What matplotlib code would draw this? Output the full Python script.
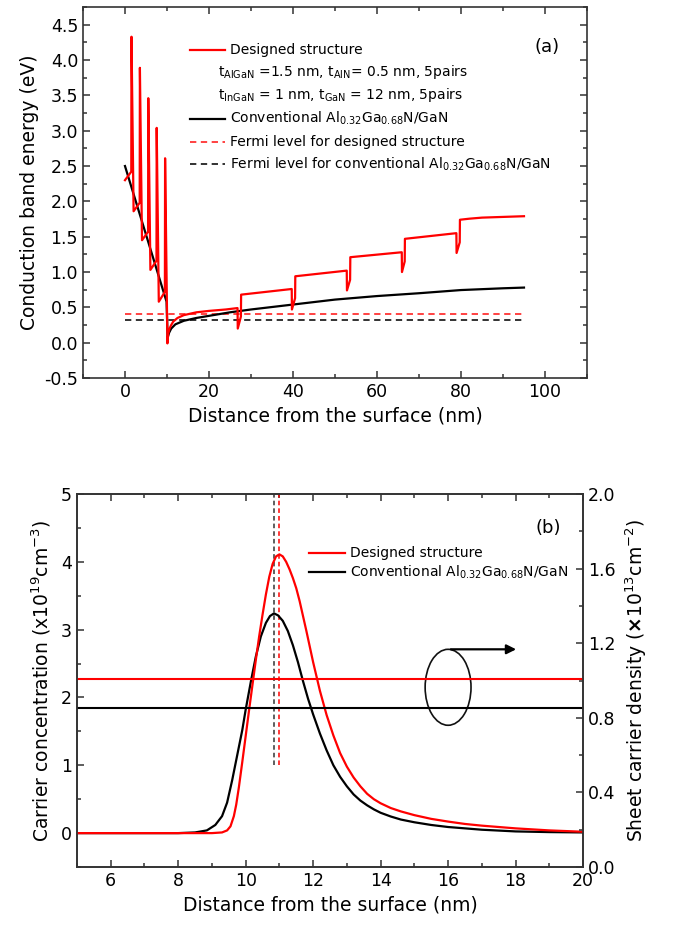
import matplotlib
matplotlib.use("Agg")
import matplotlib.pyplot as plt
from matplotlib.patches import Ellipse
from matplotlib.ticker import MultipleLocator, FormatStrFormatter

plt.rcParams['font.family'] = ['DejaVu Sans']
plt.rcParams['mathtext.default'] = 'regular'

# ---------------- Panel (a) data ----------------
designed_x = [0.0, 1.5, 1.55, 2.05, 3.5, 3.55, 4.05, 5.5, 5.55, 6.05, 7.5, 7.55, 8.05,
              9.5, 9.55, 10.1, 10.3, 10.6, 11.0, 11.5, 12.5, 14.0, 17.0, 20.0, 24.0, 26.8,
              26.85, 27.6, 27.65, 39.7, 39.75, 40.5, 40.55, 52.8, 52.85, 53.6, 53.65,
              65.9, 65.95, 66.6, 66.65, 78.9, 78.95, 79.7, 79.75, 82.0, 85.0, 90.0, 95.0]
designed_y = [2.30, 2.42, 4.33, 1.86, 1.98, 3.89, 1.45, 1.57, 3.46, 1.03, 1.16, 3.04, 0.58,
              0.72, 2.61, -0.01, 0.13, 0.20, 0.25, 0.30, 0.35, 0.39, 0.43, 0.45, 0.47, 0.49,
              0.20, 0.37, 0.68, 0.76, 0.47, 0.63, 0.94, 1.02, 0.74, 0.89, 1.21,
              1.28, 1.00, 1.15, 1.47, 1.55, 1.27, 1.42, 1.74, 1.755, 1.77, 1.78, 1.79]

conv_x = [0.0, 9.9, 10.15, 10.5, 11.0, 12.0, 14.0, 17.0, 20.0, 25.0, 30.0, 40.0, 50.0,
          60.0, 70.0, 80.0, 90.0, 95.0]
conv_y = [2.50, 0.58, 0.07, 0.14, 0.20, 0.26, 0.31, 0.35, 0.38, 0.43, 0.47, 0.54, 0.61,
          0.66, 0.70, 0.745, 0.77, 0.78]

fermi_x = [0.0, 95.0]
fermi_designed = 0.41
fermi_conv = 0.32

# ---------------- Panel (b) data ----------------
red_x = [5.0, 9.0, 9.3, 9.45, 9.55, 9.65, 9.72, 9.8, 9.9, 10.0, 10.1, 10.2, 10.3, 10.4,
         10.5, 10.6, 10.7, 10.8, 10.9, 11.0, 11.1, 11.2, 11.3, 11.4, 11.5, 11.6, 11.8,
         12.0, 12.2, 12.4, 12.6, 12.8, 13.0, 13.2, 13.4, 13.6, 13.8, 14.0, 14.3, 14.6,
         15.0, 15.5, 16.0, 16.5, 17.0, 17.5, 18.0, 19.0, 20.0]
red_y = [0.0, 0.0, 0.01, 0.04, 0.10, 0.25, 0.42, 0.68, 1.05, 1.43, 1.81, 2.18, 2.55, 2.90,
         3.22, 3.52, 3.78, 3.97, 4.08, 4.11, 4.08, 4.00, 3.89, 3.76, 3.61, 3.42, 2.98,
         2.52, 2.10, 1.74, 1.44, 1.18, 0.98, 0.82, 0.69, 0.58, 0.50, 0.44, 0.37, 0.32,
         0.265, 0.21, 0.17, 0.135, 0.11, 0.09, 0.07, 0.04, 0.02]

blk_x = [5.0, 8.0, 8.5, 8.85, 9.1, 9.3, 9.45, 9.6, 9.75, 9.9, 10.0, 10.16, 10.3, 10.45,
         10.6, 10.72, 10.84, 10.96, 11.1, 11.25, 11.4, 11.55, 11.7, 11.85, 12.0, 12.2,
         12.4, 12.6, 12.8, 13.0, 13.2, 13.4, 13.6, 13.8, 14.0, 14.3, 14.6, 15.0, 15.5,
         16.0, 16.5, 17.0, 18.0, 19.0, 20.0]
blk_y = [0.0, 0.0, 0.01, 0.04, 0.12, 0.25, 0.45, 0.78, 1.15, 1.52, 1.82, 2.25, 2.60, 2.90,
         3.10, 3.20, 3.24, 3.21, 3.13, 2.98, 2.77, 2.52, 2.24, 1.98, 1.75, 1.47,
         1.22, 1.00, 0.83, 0.69, 0.57, 0.48, 0.41, 0.35, 0.30, 0.245, 0.20, 0.16, 0.12,
         0.09, 0.07, 0.05, 0.025, 0.015, 0.01]

sheet_designed = 1.01   # x10^13 cm^-2 (right axis)
sheet_conv = 0.85
peak_designed = 10.99
peak_conv = 10.84

RED = '#ff0000'
BLK = '#000000'

fig = plt.figure(figsize=(6.73, 9.27), dpi=100)

def style_axis(ax):
    for s in ax.spines.values():
        s.set_linewidth(1.2)
        s.set_color('#333333')
    ax.tick_params(which='both', direction='in', labelsize=12.5, width=1.1, colors='#333333',
                   labelcolor='black')
    ax.tick_params(which='major', length=5)
    ax.tick_params(which='minor', length=3)

# ---------------- Panel (a) ----------------
ax1 = fig.add_axes([0.1233, 0.5922, 0.7489, 0.4002])
ax1.plot(fermi_x, [fermi_designed] * 2, color=RED, lw=1.3, ls=(0, (3.5, 2.5)), alpha=0.8)
ax1.plot(fermi_x, [fermi_conv] * 2, color='#222222', lw=1.3, ls=(0, (3.5, 2.5)))
ax1.plot(conv_x, conv_y, color=BLK, lw=1.6)
ax1.plot(designed_x, designed_y, color=RED, lw=1.6)
ax1.set_xlim(-10, 110)
ax1.set_ylim(-0.5, 4.75)
ax1.xaxis.set_major_locator(MultipleLocator(20))
ax1.xaxis.set_minor_locator(MultipleLocator(10))
ax1.yaxis.set_major_locator(MultipleLocator(0.5))
ax1.yaxis.set_minor_locator(MultipleLocator(0.25))
ax1.yaxis.set_major_formatter(FormatStrFormatter('%.1f'))
ax1.tick_params(which='both', top=True, right=True)
style_axis(ax1)
ax1.set_xlabel('Distance from the surface (nm)', fontsize=13.5, labelpad=4)
ax1.set_ylabel('Conduction band energy (eV)', fontsize=13.5, labelpad=4)

T = ax1.transAxes
fs_leg = 10
ax1.plot([0.212, 0.282], [0.884, 0.884], color=RED, lw=1.6, transform=T)
ax1.text(0.292, 0.884, 'Designed structure', transform=T, fontsize=fs_leg, va='center')
ax1.text(0.268, 0.825, r't$_{AlGaN}$ =1.5 nm, t$_{AlN}$= 0.5 nm, 5pairs', transform=T,
         fontsize=fs_leg, va='center')
ax1.text(0.268, 0.762, r't$_{InGaN}$ = 1 nm, t$_{GaN}$ = 12 nm, 5pairs', transform=T,
         fontsize=fs_leg, va='center')
ax1.plot([0.212, 0.282], [0.699, 0.699], color=BLK, lw=1.6, transform=T)
ax1.text(0.292, 0.699, r'Conventional Al$_{0.32}$Ga$_{0.68}$N/GaN', transform=T,
         fontsize=fs_leg, va='center')
ax1.plot([0.212, 0.282], [0.636, 0.636], color=RED, lw=1.3, ls=(0, (3.5, 2.5)), alpha=0.8,
         transform=T)
ax1.text(0.292, 0.636, 'Fermi level for designed structure', transform=T, fontsize=fs_leg,
         va='center')
ax1.plot([0.212, 0.282], [0.576, 0.576], color='#222222', lw=1.3, ls=(0, (3.5, 2.5)),
         transform=T)
ax1.text(0.292, 0.576, r'Fermi level for conventional Al$_{0.32}$Ga$_{0.68}$N/GaN',
         transform=T, fontsize=fs_leg, va='center')
ax1.text(0.921, 0.892, '(a)', transform=T, fontsize=13, ha='center', va='center')

# ---------------- Panel (b) ----------------
ax2 = fig.add_axes([0.1144, 0.0647, 0.7519, 0.4024])
ax2.plot(blk_x, blk_y, color=BLK, lw=1.6, zorder=3)
ax2.plot(red_x, red_y, color=RED, lw=1.6, zorder=4)
ax2.vlines(peak_conv, 1.0, 5.0, colors='#333333', lw=1.1, linestyles=(0, (3, 2)), zorder=2)
ax2.vlines(peak_designed, 1.0, 5.0, colors=RED, lw=1.1, linestyles=(0, (3, 2)), zorder=2)
ax2.set_xlim(5, 20)
ax2.set_ylim(-0.5, 5)
ax2.xaxis.set_major_locator(MultipleLocator(2))
ax2.xaxis.set_minor_locator(MultipleLocator(1))
ax2.yaxis.set_major_locator(MultipleLocator(1))
ax2.yaxis.set_minor_locator(MultipleLocator(0.5))
ax2.tick_params(which='both', top=True)
style_axis(ax2)
ax2.set_xlabel('Distance from the surface (nm)', fontsize=13.5, labelpad=4)
ax2.set_ylabel(r'Carrier concentration (x10$^{19}$cm$^{-3}$)', fontsize=13.5, labelpad=6)

ax3 = ax2.twinx()
ax3.axhline(sheet_designed, color=RED, lw=1.5)
ax3.axhline(sheet_conv, color=BLK, lw=1.5)
ax3.set_ylim(0, 2.0)
ax3.yaxis.set_major_locator(MultipleLocator(0.4))
ax3.yaxis.set_minor_locator(MultipleLocator(0.2))
ax3.yaxis.set_major_formatter(FormatStrFormatter('%.1f'))
style_axis(ax3)
ax3.set_ylabel(r'Sheet carrier density ($\mathbf{\times}$10$^{13}$cm$^{-2}$)', fontsize=13.5,
               labelpad=6)

ax2.add_patch(Ellipse((16.0, 2.15), 1.36, 1.12, fill=False, ec='#111111', lw=1.2, zorder=5))
ax2.annotate('', xy=(18.1, 2.71), xytext=(16.0, 2.71),
             arrowprops=dict(arrowstyle='-|>', color='black', lw=1.6, mutation_scale=14),
             zorder=5)

T2 = ax2.transAxes
ax2.plot([0.458, 0.530], [0.842, 0.842], color=RED, lw=1.6, transform=T2)
ax2.text(0.540, 0.842, 'Designed structure', transform=T2, fontsize=fs_leg, va='center')
ax2.plot([0.458, 0.530], [0.791, 0.791], color=BLK, lw=1.6, transform=T2)
ax2.text(0.540, 0.791, r'Conventional Al$_{0.32}$Ga$_{0.68}$N/GaN', transform=T2,
         fontsize=fs_leg, va='center')
ax2.text(0.931, 0.909, '(b)', transform=T2, fontsize=13, ha='center', va='center')

fig.savefig('out.png', dpi=100)
